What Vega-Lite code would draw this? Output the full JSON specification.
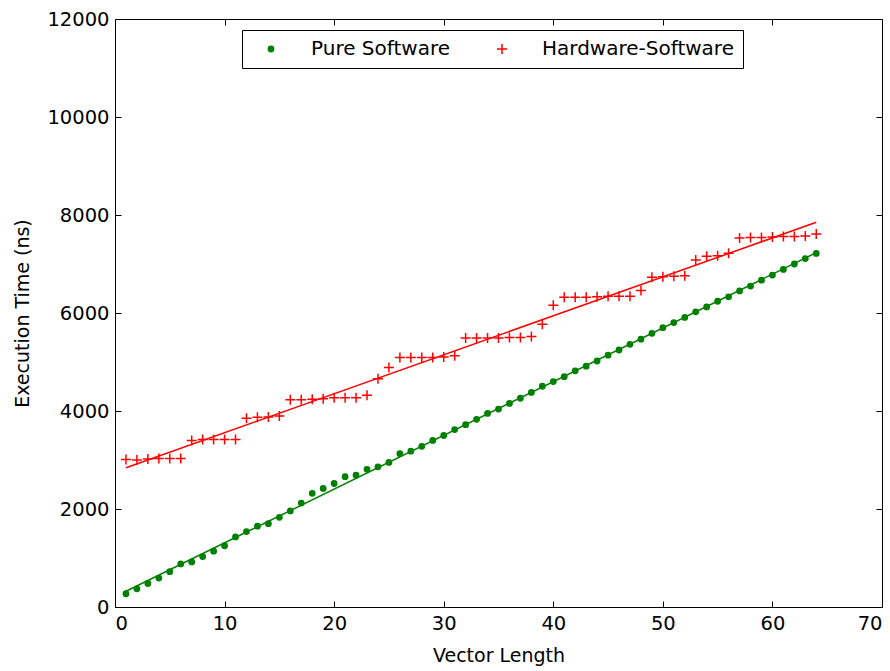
{
  "$schema": "https://vega.github.io/schema/vega-lite/v6.json",
  "width": 767,
  "height": 588,
  "autosize": "none",
  "padding": {"left": 115, "top": 19, "right": 8, "bottom": 64},
  "background": "white",
  "config": {
    "font": "DejaVu Sans",
    "view": {"stroke": "black", "strokeWidth": 1},
    "axis": {
      "grid": false,
      "domainColor": "black",
      "tickColor": "black",
      "tickSize": -6,
      "labelColor": "black",
      "labelFontSize": 19.5,
      "labelFont": "DejaVu Sans",
      "titleFont": "DejaVu Sans",
      "titleFontSize": 19,
      "titleFontWeight": "normal",
      "titleColor": "black"
    }
  },
  "data": {
    "values": [
      {"n":1,"series":"Pure Software","t":270},{"n":2,"series":"Pure Software","t":370},{"n":3,"series":"Pure Software","t":480},{"n":4,"series":"Pure Software","t":590},{"n":5,"series":"Pure Software","t":720},{"n":6,"series":"Pure Software","t":880},{"n":7,"series":"Pure Software","t":920},{"n":8,"series":"Pure Software","t":1030},{"n":9,"series":"Pure Software","t":1140},{"n":10,"series":"Pure Software","t":1250},{"n":11,"series":"Pure Software","t":1430},{"n":12,"series":"Pure Software","t":1540},{"n":13,"series":"Pure Software","t":1650},{"n":14,"series":"Pure Software","t":1700},{"n":15,"series":"Pure Software","t":1830},{"n":16,"series":"Pure Software","t":1960},{"n":17,"series":"Pure Software","t":2120},{"n":18,"series":"Pure Software","t":2320},{"n":19,"series":"Pure Software","t":2420},{"n":20,"series":"Pure Software","t":2520},{"n":21,"series":"Pure Software","t":2660},{"n":22,"series":"Pure Software","t":2690},{"n":23,"series":"Pure Software","t":2810},{"n":24,"series":"Pure Software","t":2860},{"n":25,"series":"Pure Software","t":2950},{"n":26,"series":"Pure Software","t":3130},{"n":27,"series":"Pure Software","t":3180},{"n":28,"series":"Pure Software","t":3280},{"n":29,"series":"Pure Software","t":3400},{"n":30,"series":"Pure Software","t":3500},{"n":31,"series":"Pure Software","t":3620},{"n":32,"series":"Pure Software","t":3720},{"n":33,"series":"Pure Software","t":3830},{"n":34,"series":"Pure Software","t":3950},{"n":35,"series":"Pure Software","t":4040},{"n":36,"series":"Pure Software","t":4155},{"n":37,"series":"Pure Software","t":4260},{"n":38,"series":"Pure Software","t":4380},{"n":39,"series":"Pure Software","t":4505},{"n":40,"series":"Pure Software","t":4600},{"n":41,"series":"Pure Software","t":4700},{"n":42,"series":"Pure Software","t":4820},{"n":43,"series":"Pure Software","t":4915},{"n":44,"series":"Pure Software","t":5020},{"n":45,"series":"Pure Software","t":5140},{"n":46,"series":"Pure Software","t":5245},{"n":47,"series":"Pure Software","t":5360},{"n":48,"series":"Pure Software","t":5465},{"n":49,"series":"Pure Software","t":5585},{"n":50,"series":"Pure Software","t":5700},{"n":51,"series":"Pure Software","t":5805},{"n":52,"series":"Pure Software","t":5910},{"n":53,"series":"Pure Software","t":6025},{"n":54,"series":"Pure Software","t":6125},{"n":55,"series":"Pure Software","t":6240},{"n":56,"series":"Pure Software","t":6330},{"n":57,"series":"Pure Software","t":6450},{"n":58,"series":"Pure Software","t":6550},{"n":59,"series":"Pure Software","t":6670},{"n":60,"series":"Pure Software","t":6775},{"n":61,"series":"Pure Software","t":6890},{"n":62,"series":"Pure Software","t":7000},{"n":63,"series":"Pure Software","t":7110},{"n":64,"series":"Pure Software","t":7215},
      {"n":1,"series":"Hardware-Software","t":3010},{"n":2,"series":"Hardware-Software","t":3000},{"n":3,"series":"Hardware-Software","t":3020},{"n":4,"series":"Hardware-Software","t":3030},{"n":5,"series":"Hardware-Software","t":3030},{"n":6,"series":"Hardware-Software","t":3030},{"n":7,"series":"Hardware-Software","t":3400},{"n":8,"series":"Hardware-Software","t":3420},{"n":9,"series":"Hardware-Software","t":3420},{"n":10,"series":"Hardware-Software","t":3420},{"n":11,"series":"Hardware-Software","t":3420},{"n":12,"series":"Hardware-Software","t":3850},{"n":13,"series":"Hardware-Software","t":3870},{"n":14,"series":"Hardware-Software","t":3880},{"n":15,"series":"Hardware-Software","t":3900},{"n":16,"series":"Hardware-Software","t":4230},{"n":17,"series":"Hardware-Software","t":4230},{"n":18,"series":"Hardware-Software","t":4240},{"n":19,"series":"Hardware-Software","t":4250},{"n":20,"series":"Hardware-Software","t":4270},{"n":21,"series":"Hardware-Software","t":4270},{"n":22,"series":"Hardware-Software","t":4270},{"n":23,"series":"Hardware-Software","t":4320},{"n":24,"series":"Hardware-Software","t":4660},{"n":25,"series":"Hardware-Software","t":4890},{"n":26,"series":"Hardware-Software","t":5090},{"n":27,"series":"Hardware-Software","t":5090},{"n":28,"series":"Hardware-Software","t":5090},{"n":29,"series":"Hardware-Software","t":5090},{"n":30,"series":"Hardware-Software","t":5100},{"n":31,"series":"Hardware-Software","t":5130},{"n":32,"series":"Hardware-Software","t":5490},{"n":33,"series":"Hardware-Software","t":5490},{"n":34,"series":"Hardware-Software","t":5490},{"n":35,"series":"Hardware-Software","t":5490},{"n":36,"series":"Hardware-Software","t":5500},{"n":37,"series":"Hardware-Software","t":5500},{"n":38,"series":"Hardware-Software","t":5520},{"n":39,"series":"Hardware-Software","t":5770},{"n":40,"series":"Hardware-Software","t":6160},{"n":41,"series":"Hardware-Software","t":6320},{"n":42,"series":"Hardware-Software","t":6320},{"n":43,"series":"Hardware-Software","t":6320},{"n":44,"series":"Hardware-Software","t":6330},{"n":45,"series":"Hardware-Software","t":6340},{"n":46,"series":"Hardware-Software","t":6340},{"n":47,"series":"Hardware-Software","t":6340},{"n":48,"series":"Hardware-Software","t":6460},{"n":49,"series":"Hardware-Software","t":6730},{"n":50,"series":"Hardware-Software","t":6740},{"n":51,"series":"Hardware-Software","t":6750},{"n":52,"series":"Hardware-Software","t":6760},{"n":53,"series":"Hardware-Software","t":7080},{"n":54,"series":"Hardware-Software","t":7160},{"n":55,"series":"Hardware-Software","t":7170},{"n":56,"series":"Hardware-Software","t":7220},{"n":57,"series":"Hardware-Software","t":7530},{"n":58,"series":"Hardware-Software","t":7540},{"n":59,"series":"Hardware-Software","t":7540},{"n":60,"series":"Hardware-Software","t":7550},{"n":61,"series":"Hardware-Software","t":7560},{"n":62,"series":"Hardware-Software","t":7560},{"n":63,"series":"Hardware-Software","t":7570},{"n":64,"series":"Hardware-Software","t":7610}
    ]
  },
  "layer": [
    {
      "mark": {"type": "point", "filled": false, "strokeWidth": 1.5, "opacity": 1},
      "encoding": {
        "x": {"field": "n", "type": "quantitative", "title": "Vector Length",
              "scale": {"domain": [0, 70], "nice": false},
              "axis": {"values": [0,10,20,30,40,50,60,70], "format": "d", "labelPadding": 13, "titlePadding": 14}},
        "y": {"field": "t", "type": "quantitative", "title": "Execution Time (ns)",
              "scale": {"domain": [0, 12000], "nice": false},
              "axis": {"values": [0,2000,4000,6000,8000,10000,12000], "format": "d", "labelPadding": 12, "titlePadding": 14}},
        "color": {"field": "series", "type": "nominal",
                  "scale": {"domain": ["Pure Software", "Hardware-Software"], "range": ["#008000", "#ff0000"]},
                  "legend": {
                    "title": null, "orient": "none", "direction": "horizontal",
                    "legendX": 127, "legendY": 11,
                    "strokeColor": "black", "fillColor": "white", "padding": 9,
                    "labelFontSize": 20, "labelColor": "black", "labelFont": "DejaVu Sans", "labelLimit": 400,
                    "symbolSize": 30, "symbolOffset": 10, "labelOffset": 30, "columnPadding": 32,
                    "symbolStrokeWidth": 1.5
                  }},
        "shape": {"field": "series", "type": "nominal",
                  "scale": {"domain": ["Pure Software", "Hardware-Software"], "range": ["circle", "M-1,0H1M0,-1V1"]},
                  "legend": null},
        "fill": {"field": "series", "type": "nominal",
                 "scale": {"domain": ["Pure Software", "Hardware-Software"], "range": ["#008000", "transparent"]},
                 "legend": null},
        "size": {"field": "series", "type": "nominal",
                 "scale": {"domain": ["Pure Software", "Hardware-Software"], "range": [28, 100]},
                 "legend": null}
      }
    },
    {
      "transform": [
        {"regression": "t", "on": "n", "groupby": ["series"], "method": "linear", "extent": [1, 64]}
      ],
      "mark": {"type": "line", "strokeWidth": 1.5},
      "encoding": {
        "x": {"field": "n", "type": "quantitative", "axis": null},
        "y": {"field": "t", "type": "quantitative", "axis": null},
        "color": {"field": "series", "type": "nominal", "legend": null}
      }
    },
    {
      "mark": {"type": "point", "opacity": 0},
      "encoding": {
        "x": {"field": "n", "type": "quantitative",
              "axis": {"orient": "top", "labels": false, "title": null, "domain": false, "values": [0,10,20,30,40,50,60,70]}},
        "y": {"field": "t", "type": "quantitative",
              "axis": {"orient": "right", "labels": false, "title": null, "domain": false, "values": [0,2000,4000,6000,8000,10000,12000]}}
      }
    }
  ],
  "resolve": {"axis": {"x": "independent", "y": "independent"}}
}
